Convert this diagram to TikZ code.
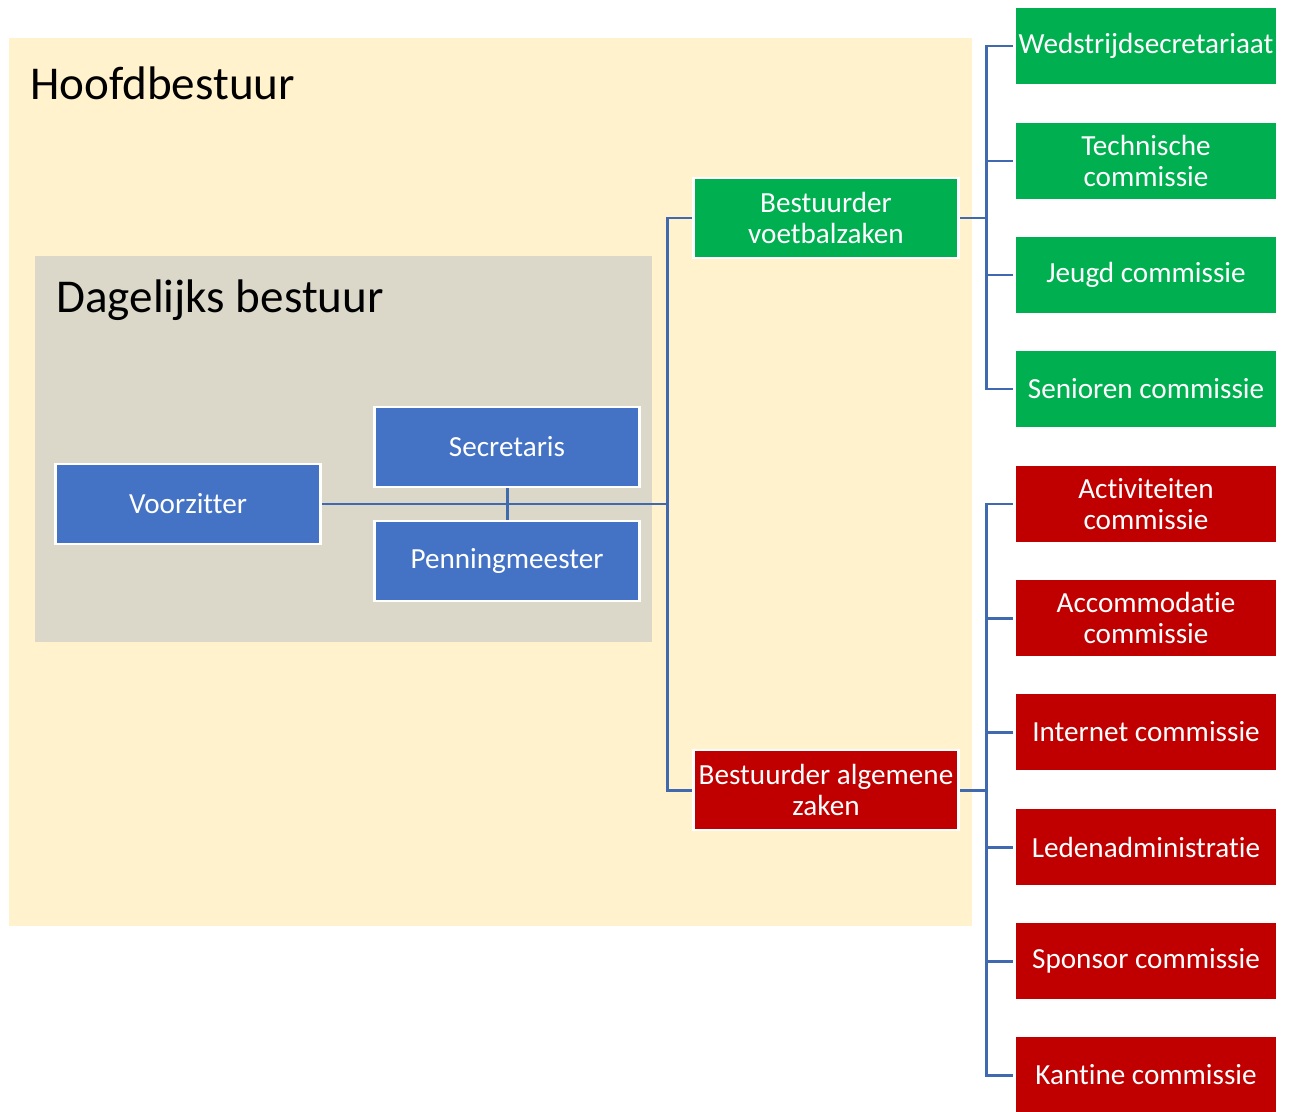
\documentclass[tikz,border=0pt]{standalone}
\usepackage{fontspec}
\setmainfont{Carlito}[Ligatures=NoCommon]
\definecolor{cream}{HTML}{FFF2CC}
\definecolor{stone}{HTML}{DBD8CA}
\definecolor{boxblue}{HTML}{4472C4}
\definecolor{boxgreen}{HTML}{00B050}
\definecolor{boxred}{HTML}{C00000}
\definecolor{linkblue}{HTML}{4169B0}

\begin{document}
\begin{tikzpicture}
  [x=0.02cm,y=-0.02cm,
   box/.style={rectangle,draw=white,line width=1.6pt,text=white,align=center,
     font=\fontsize{16.6}{17.8}\selectfont,inner sep=1pt},
   bluebox/.style={box,fill=boxblue,minimum width=5.3cm,minimum height=1.6cm},
   leadbox/.style={box,minimum width=5.3cm,minimum height=1.6cm},
   subbox/.style={box,minimum width=5.26cm,minimum height=1.56cm},
   title/.style={anchor=base west,inner sep=0pt,font=\fontsize{26.8}{30}\selectfont},
   link/.style={draw=linkblue,line width=1.7pt}]
  \useasboundingbox (0,0) rectangle (1293,1111);
  \fill[cream] (9,38) rectangle (972,926);
  \fill[stone] (35,256) rectangle (652,642);
  \node[title] (hoofd) at (30,100) {Hoofdbestuur};
  \node[title] (dagelijks) at (56,312) {Dagelijks bestuur};

  \node[bluebox] (vz) at (188,504) {Voorzitter};
  \node[bluebox] (sec) at (507,447) {Secretaris};
  \node[bluebox] (pen) at (507,561) {Penningmeester};
  \node[leadbox,fill=boxgreen] (bv) at (826,218) {Bestuurder\\voetbalzaken};
  \node[leadbox,fill=boxred] (ba) at (826,790) {Bestuurder algemene\\zaken};

  \node[subbox,fill=boxgreen] (wed) at (1146,46) {Wedstrijdsecretariaat};
  \node[subbox,fill=boxgreen] (tech) at (1146,161) {Technische\\commissie};
  \node[subbox,fill=boxgreen] (jeugd) at (1146,275) {Jeugd commissie};
  \node[subbox,fill=boxgreen] (sen) at (1146,389) {Senioren commissie};

  \node[subbox,fill=boxred] (act) at (1146,504) {Activiteiten\\commissie};
  \node[subbox,fill=boxred] (acc) at (1146,618) {Accommodatie\\commissie};
  \node[subbox,fill=boxred] (int) at (1146,732) {Internet commissie};
  \node[subbox,fill=boxred] (leden) at (1146,847) {Ledenadministratie};
  \node[subbox,fill=boxred] (spon) at (1146,961) {Sponsor commissie};
  \node[subbox,fill=boxred] (kant) at (1146,1075) {Kantine commissie};

  \coordinate (hub) at (667,504);
  \coordinate (bvbus) at (986,218);
  \coordinate (babus) at (986,790);

  \draw[link] (sec.south) -- (pen.north);
  \draw[link] (vz.east) -- (hub);
  \draw[link] (hub) |- (bv.west);
  \draw[link] (hub) |- (ba.west);
  \draw[link] (bv.east) -- (bvbus);
  \draw[link] (ba.east) -- (babus);
  \foreach \to in {wed,tech,jeugd,sen}
    \draw[link] (bvbus) |- (\to.west);
  \foreach \to in {act,acc,int,leden,spon,kant}
    \draw[link] (babus) |- (\to.west);
\end{tikzpicture}
\end{document}
